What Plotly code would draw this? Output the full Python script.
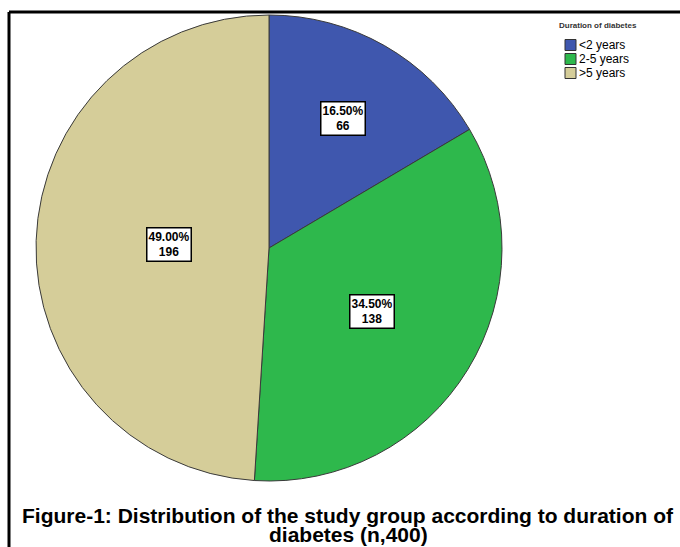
import math
import plotly.graph_objects as go

# Duration of diabetes among the study group (n = 400)
categories = ["<2 years", "2-5 years", ">5 years"]
counts = [66, 138, 196]
colors = ["#3f57ae", "#2eb84c", "#d5cd99"]
# how far out (fraction of radius) each slice label sits
label_radius = [0.64, 0.52, 0.43]

W, H = 680, 547
total = sum(counts)
FONT = "Liberation Sans, Arial"

# pie placement in pixels
cx, cy, r = 269, 248, 233
dom_x = [(cx - r) / W, (cx + r) / W]
dom_y = [1 - (cy + r) / H, 1 - (cy - r) / H]


def px(x):
    return x / W


def py(y):
    return 1 - y / H


fig = go.Figure(
    go.Pie(
        labels=categories,
        values=counts,
        sort=False,
        direction="clockwise",
        rotation=0,
        marker=dict(colors=colors, line=dict(color="#3a3a3a", width=1)),
        textinfo="none",
        hoverinfo="label+value+percent",
        domain=dict(x=dom_x, y=dom_y),
        showlegend=False,
    )
)

annotations = []
shapes = []

# boxed percentage / count labels placed at each slice's mid-angle
cum = 0
for val, fr in zip(counts, label_radius):
    mid = (cum + val / 2) / total * 2 * math.pi
    cum += val
    lx = cx + fr * r * math.sin(mid)
    ly = cy - fr * r * math.cos(mid)
    annotations.append(
        dict(
            x=px(lx), y=py(ly), xref="paper", yref="paper",
            xanchor="center", yanchor="middle",
            text=f"<b>{val / total * 100:.2f}%<br>{val}</b>",
            showarrow=False,
            font=dict(family=FONT, size=12, color="black"),
            bgcolor="white", bordercolor="black", borderwidth=1.5, borderpad=1,
            align="center",
        )
    )

# legend block: title, colour swatches and category names
leg_x, leg_y0, leg_step = 565, 45, 14
annotations.append(
    dict(x=px(557), y=py(26), xref="paper", yref="paper", xanchor="left", yanchor="middle",
         text="<b>Duration of diabetes</b>", showarrow=False,
         font=dict(family=FONT, size=8, color="#333"))
)
for i, (name, col) in enumerate(zip(categories, colors)):
    yc = leg_y0 + i * leg_step
    shapes.append(
        dict(type="rect", xref="paper", yref="paper",
             x0=px(leg_x), x1=px(leg_x + 11), y0=py(yc - 5.5), y1=py(yc + 5.5),
             fillcolor=col, line=dict(color="#333", width=1))
    )
    annotations.append(
        dict(x=px(leg_x + 11.5), y=py(yc), xref="paper", yref="paper",
             xanchor="left", yanchor="middle", text=name, showarrow=False,
             font=dict(family=FONT, size=12, color="black"))
    )

# caption below the chart, two tightly spaced lines
for text, yc in [("Figure-1: Distribution of the study group according to duration of", 515),
                 ("diabetes (n,400)", 534)]:
    annotations.append(
        dict(x=px(348), y=py(yc), xref="paper", yref="paper", xanchor="center", yanchor="middle",
             text=f"<b>{text}</b>", showarrow=False,
             font=dict(family=FONT, size=21, color="black"))
    )

# frame lines along the top and left edge
shapes += [
    dict(type="line", xref="paper", yref="paper", x0=px(9), x1=1, y0=py(12), y1=py(12),
         line=dict(color="black", width=3)),
    dict(type="line", xref="paper", yref="paper", x0=px(9), x1=px(9), y0=0, y1=py(12),
         line=dict(color="black", width=3)),
]

fig.update_layout(
    width=W, height=H,
    margin=dict(l=0, r=0, t=0, b=0),
    paper_bgcolor="white",
    plot_bgcolor="white",
    annotations=annotations,
    shapes=shapes,
)

fig.write_html("out.html")
